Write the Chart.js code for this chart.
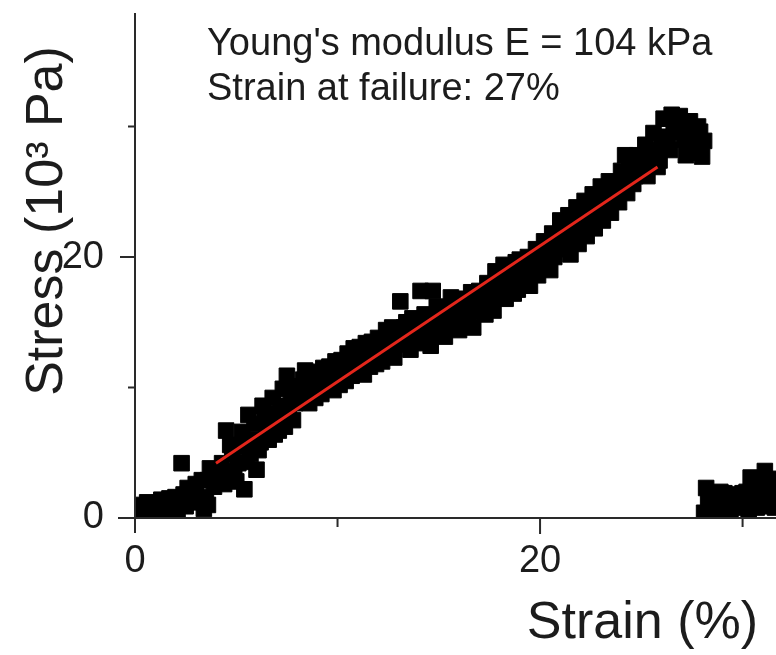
<!DOCTYPE html>
<html>
<head>
<meta charset="utf-8">
<script src="https://cdn.jsdelivr.net/npm/chart.js@4.4.1/dist/chart.umd.min.js"></script>
<style>
  html, body { margin: 0; padding: 0; background: #fff; }
  #wrap { position: relative; width: 776px; height: 655px; }
</style>
</head>
<body>
<div id="wrap"><canvas id="stressChart"></canvas></div>
<script>
// loading curve up to failure (strain %, stress 10^3 Pa)
const strainLoad = [
  0.1, 0.3, 0.5, 0.7, 0.9, 1.1, 1.3, 1.5, 1.7, 1.9, 2.1, 2.3, 2.4, 2.6, 2.8, 3.0, 3.2, 3.4, 3.6, 3.7, 3.9, 4.1, 4.3,
  4.5, 4.6, 4.8, 5.0, 5.2, 5.4, 5.5, 5.6, 5.8, 6.0, 6.1, 6.3, 6.5, 6.6, 6.8, 7.0, 7.1, 7.3, 7.5, 7.6, 7.8, 8.0,
  8.2, 8.4, 8.6, 8.8, 9.0, 9.2, 9.4, 9.6, 9.8, 10.0, 10.2, 10.4, 10.6, 10.8, 11.0, 11.2, 11.4, 11.6, 11.8, 12.0,
  12.2, 12.4, 12.6, 12.8, 13.0, 13.1, 13.2, 13.4, 13.6, 13.8, 14.0, 14.1, 14.2, 14.4, 14.6, 14.7, 14.8, 15.0, 15.2, 15.4, 15.6, 15.8, 16.0, 16.2, 16.4, 16.6, 16.8,
  17.0, 17.2, 17.3, 17.4, 17.6, 17.8, 18.0, 18.2, 18.4, 18.6, 18.9, 19.0, 19.2, 19.4, 19.6, 19.8, 20.0, 20.2, 20.5,
  20.4, 20.6, 20.8, 21.0, 21.2, 21.4, 21.5, 21.6, 21.8, 22.0, 22.2, 22.4, 22.6, 22.8, 23.0, 23.2, 23.4, 23.6, 23.8, 24.0, 24.2, 24.4, 24.6, 24.8,
  25.0, 25.2, 25.4, 25.6, 25.8, 26.0, 26.1, 26.3, 26.5, 26.7, 26.9, 27.1, 27.2, 27.4, 27.6, 27.7, 27.8, 27.9, 28.0, 28.1,
  0.2, 0.6, 1.0, 1.4, 1.8, 2.0, 2.5, 2.9, 3.3, 3.5, 3.6, 4.4, 4.7, 4.9, 5.1, 5.3, 5.7, 5.9, 6.2, 6.4, 6.7, 6.9, 7.2, 7.4, 7.7, 7.9,
  8.1, 8.3, 8.5, 8.7, 8.9, 9.1, 9.3, 9.5, 9.7, 9.9, 10.1, 10.3, 10.5, 10.7, 10.9, 11.1, 11.3, 11.5, 11.7, 11.9, 12.1, 12.3, 12.5, 12.7, 12.9,
  13.3, 13.5, 13.7, 13.9, 14.3, 14.5, 14.9, 15.1, 15.3, 15.5, 15.7, 15.9, 16.1, 16.3, 16.5, 16.7, 16.9, 17.1, 17.5, 17.7, 17.9,
  18.1, 18.3, 18.5, 18.7, 18.8, 19.1, 19.3, 19.5, 19.7, 19.9, 20.1, 20.3, 20.7, 20.9, 21.1, 21.3, 21.7, 21.9, 22.1, 22.3, 22.5, 22.7, 22.9,
  23.1, 23.3, 23.5, 23.7, 23.9, 24.1, 24.3, 24.5, 24.7, 24.9, 25.1, 25.3, 25.5, 25.7, 25.9, 26.2, 26.4, 26.6, 26.8, 27.0, 27.3, 27.5, 27.9,
];
const stressLoad = [
  0.6, 1.0, 0.5, 0.9, 0.4, 1.1, 1.4, 0.8, 1.5, 1.0, 0.6, 4.2, 1.8, 2.3, 1.2, 2.6, 1.6, 0.7, 2.9, 3.8, 2.4, 3.6, 4.2,
  6.7, 3.2, 4.9, 2.8, 5.5, 2.2, 4.3, 7.9, 6.0, 3.7, 5.2, 8.6, 6.5, 6.0, 9.2, 7.4, 6.7, 9.9, 10.9, 8.3, 7.5, 10.1,
  9.0, 11.3, 8.8, 10.4, 11.2, 9.5, 10.8, 11.6, 9.8, 11.0, 12.1, 10.5, 11.7, 13.0, 11.2, 12.4, 13.4, 11.6, 12.8, 13.8,
  12.0, 14.4, 13.0, 12.3, 14.0, 16.6, 13.3, 15.0, 12.9, 14.3, 15.2, 17.4, 13.6, 14.6, 13.2, 17.4, 15.4, 14.2, 15.8, 14.6, 16.9, 15.4, 14.4, 16.5, 15.2, 17.3, 16.0,
  17.4, 16.4, 15.6, 18.0, 16.8, 18.9, 17.4, 19.4, 18.0, 19.0, 17.5, 19.8, 18.6, 20.0, 18.8, 20.6, 19.6, 21.2, 19.0,
  20.4, 21.8, 20.6, 22.8, 21.0, 23.2, 20.2, 21.8, 23.8, 22.2, 24.3, 22.6, 24.8, 23.2, 25.4, 23.8, 25.8, 24.4, 25.0, 26.6, 27.8, 27.2, 25.6, 27.8,
  26.6, 28.6, 27.2, 29.5, 26.9, 28.4, 30.6, 29.2, 30.9, 29.6, 30.8, 29.0, 27.8, 30.4, 29.4, 28.0, 30.0, 28.6, 27.7, 28.9,
  0.4, 1.2, 0.7, 0.5, 0.7, 1.6, 0.9, 2.0, 2.9, 1.4, 1.0, 2.6, 5.6, 3.6, 4.2, 6.6, 4.9, 7.2, 5.8, 7.6, 8.0, 6.4, 8.6, 7.0, 9.4, 8.8,
  9.6, 10.6, 9.8, 11.0, 9.2, 10.2, 11.5, 10.1, 10.6, 12.0, 10.2, 11.4, 12.6, 10.9, 12.0, 13.1, 11.0, 12.1, 13.5, 11.8, 12.9, 13.7, 12.4, 14.6, 13.5,
  14.6, 13.8, 15.3, 13.4, 15.6, 14.0, 16.2, 15.0, 13.9, 15.6, 14.8, 16.8, 15.6, 14.8, 16.2, 14.6, 17.0, 15.8, 17.2, 15.9, 17.9,
  18.6, 16.8, 18.8, 17.2, 19.6, 18.0, 19.4, 17.8, 19.2, 18.6, 20.2, 19.8, 20.0, 21.6, 21.4, 22.2, 22.6, 21.0, 23.0, 21.6, 23.6, 22.2, 24.2,
  22.8, 24.6, 23.4, 25.4, 24.2, 25.6, 24.9, 26.4, 26.2, 27.0, 27.6, 26.2, 28.0, 28.2, 27.4, 29.2, 28.2, 29.8, 30.2, 30.2, 28.4, 28.8, 29.6,
];

// readings after the sample broke
const strainBroken = [
  28.1, 28.2, 28.3, 28.5, 28.6, 28.8, 29.0, 29.1, 29.3, 29.5, 29.6, 29.8, 30.0, 30.1, 30.3, 30.4, 30.6, 30.8, 30.9, 31.1, 31.3, 31.5, 31.7,
  28.4, 28.7, 28.9, 29.2, 29.4, 29.7, 29.9, 30.2, 30.5, 30.7, 31.0, 31.2, 31.4, 31.6,
];
const stressBroken = [
  0.4, 2.3, 1.2, 0.6, 1.9, 1.4, 0.5, 1.9, 1.0, 1.7, 1.2, 0.8, 1.9, 1.6, 0.6, 3.1, 2.4, 3.0, 1.3, 3.6, 0.9, 2.2, 1.6,
  1.6, 0.9, 2.0, 1.5, 0.4, 1.8, 1.0, 2.0, 1.4, 0.8, 2.2, 1.4, 3.0, 0.8,
];

// linear fit (E = 104 kPa)
const fitStrain = [4.0, 25.8];
const fitStress = [4.2, 26.9];

const xMajorTicks = [0, 20];
const xMinorTicks = [10, 30];
const yMajorTicks = [0, 20];
const yMinorTicks = [10, 30];

const annotationLines = ["Young's modulus E = 104 kPa", "Strain at failure: 27%"];
const xTitle = "Strain (%)";
const yTitle = "Stress (10\u00B3 Pa)";

const FONT = '"Liberation Sans", Arial, Helvetica, sans-serif';
const TEXT_COLOR = "#1c1c1c";
const AXIS_COLOR = "#2a2a2a";

const toPoints = (xs, ys) => xs.map((v, i) => ({ x: v, y: ys[i] }));

// keep the plot area fixed: no extra room for edge labels
const noScalePadding = (scale) => {
  scale.paddingTop = 0;
  scale.paddingBottom = 0;
  scale.paddingLeft = 0;
  scale.paddingRight = 0;
};

// axis lines, tick marks and the free text
const axesAndText = {
  id: "axesAndText",
  afterDatasetsDraw(chart) {
    const { ctx, chartArea } = chart;
    const xs = chart.scales.x;
    const ys = chart.scales.y;
    const x0 = xs.getPixelForValue(0);
    const y0 = ys.getPixelForValue(0);

    ctx.save();
    ctx.strokeStyle = AXIS_COLOR;
    ctx.lineWidth = 2;
    ctx.beginPath();
    ctx.moveTo(x0, chartArea.top);
    ctx.lineTo(x0, y0 + 15);
    ctx.moveTo(x0 - 17, y0);
    ctx.lineTo(chartArea.right, y0);

    xMajorTicks.filter((v) => v !== 0).forEach((v) => {
      const px = xs.getPixelForValue(v);
      ctx.moveTo(px, y0);
      ctx.lineTo(px, y0 + 16);
    });
    xMinorTicks.forEach((v) => {
      const px = xs.getPixelForValue(v);
      ctx.moveTo(px, y0);
      ctx.lineTo(px, y0 + 9);
    });
    yMajorTicks.filter((v) => v !== 0).forEach((v) => {
      const py = ys.getPixelForValue(v);
      ctx.moveTo(x0 - 15, py);
      ctx.lineTo(x0, py);
    });
    yMinorTicks.forEach((v) => {
      const py = ys.getPixelForValue(v);
      ctx.moveTo(x0 - 7, py);
      ctx.lineTo(x0, py);
    });
    ctx.stroke();

    ctx.fillStyle = TEXT_COLOR;
    ctx.font = "38px " + FONT;
    ctx.textAlign = "left";
    ctx.textBaseline = "alphabetic";
    ctx.fillText(annotationLines[0], 207, 55);
    ctx.fillText(annotationLines[1], 207, 100);

    ctx.font = "52px " + FONT;
    ctx.textAlign = "right";
    ctx.fillText(xTitle, 758, 638);

    ctx.translate(62, 221);
    ctx.rotate(-Math.PI / 2);
    ctx.textAlign = "center";
    ctx.fillText(yTitle, 0, 0);
    ctx.restore();
  },
};

const squareStyle = {
  backgroundColor: "#000",
  borderColor: "#000",
  borderWidth: 1,
  pointStyle: "rect",
  pointRadius: 11,
  showLine: false,
  clip: 0,
  order: 1,
};

new Chart(document.getElementById("stressChart"), {
  type: "scatter",
  data: {
    datasets: [
      {
        label: "Linear fit",
        data: toPoints(fitStrain, fitStress),
        showLine: true,
        borderColor: "#e3261b",
        borderWidth: 3,
        pointRadius: 0,
        order: 0,
      },
      { label: "Loading", data: toPoints(strainLoad, stressLoad), ...squareStyle },
      { label: "After failure", data: toPoints(strainBroken, stressBroken), ...squareStyle },
    ],
  },
  options: {
    responsive: true,
    maintainAspectRatio: false,
    animation: false,
    events: [],
    layout: {
      autoPadding: false,
      padding: { top: 13, right: 0, bottom: 0, left: 0 },
    },
    plugins: {
      legend: { display: false },
      tooltip: { enabled: false },
    },
    scales: {
      x: {
        type: "linear",
        min: 0,
        max: 31.65,
        afterFit: (scale) => {
          scale.height = 137;
          noScalePadding(scale);
        },
        grid: { display: false, tickLength: 17 },
        border: { display: false },
        ticks: {
          stepSize: 10,
          padding: 4,
          autoSkip: false,
          maxRotation: 0,
          color: TEXT_COLOR,
          font: { family: FONT, size: 38 },
          callback: (v) => (xMajorTicks.includes(v) ? String(v) : null),
        },
      },
      y: {
        type: "linear",
        min: 0,
        max: 38.7,
        afterFit: (scale) => {
          scale.width = 135;
          noScalePadding(scale);
        },
        grid: { display: false, tickLength: 17 },
        border: { display: false },
        ticks: {
          stepSize: 10,
          padding: 14,
          autoSkip: false,
          color: TEXT_COLOR,
          font: { family: FONT, size: 38 },
          callback: (v) => (yMajorTicks.includes(v) ? String(v) : null),
        },
      },
    },
  },
  plugins: [axesAndText],
});
</script>
</body>
</html>
